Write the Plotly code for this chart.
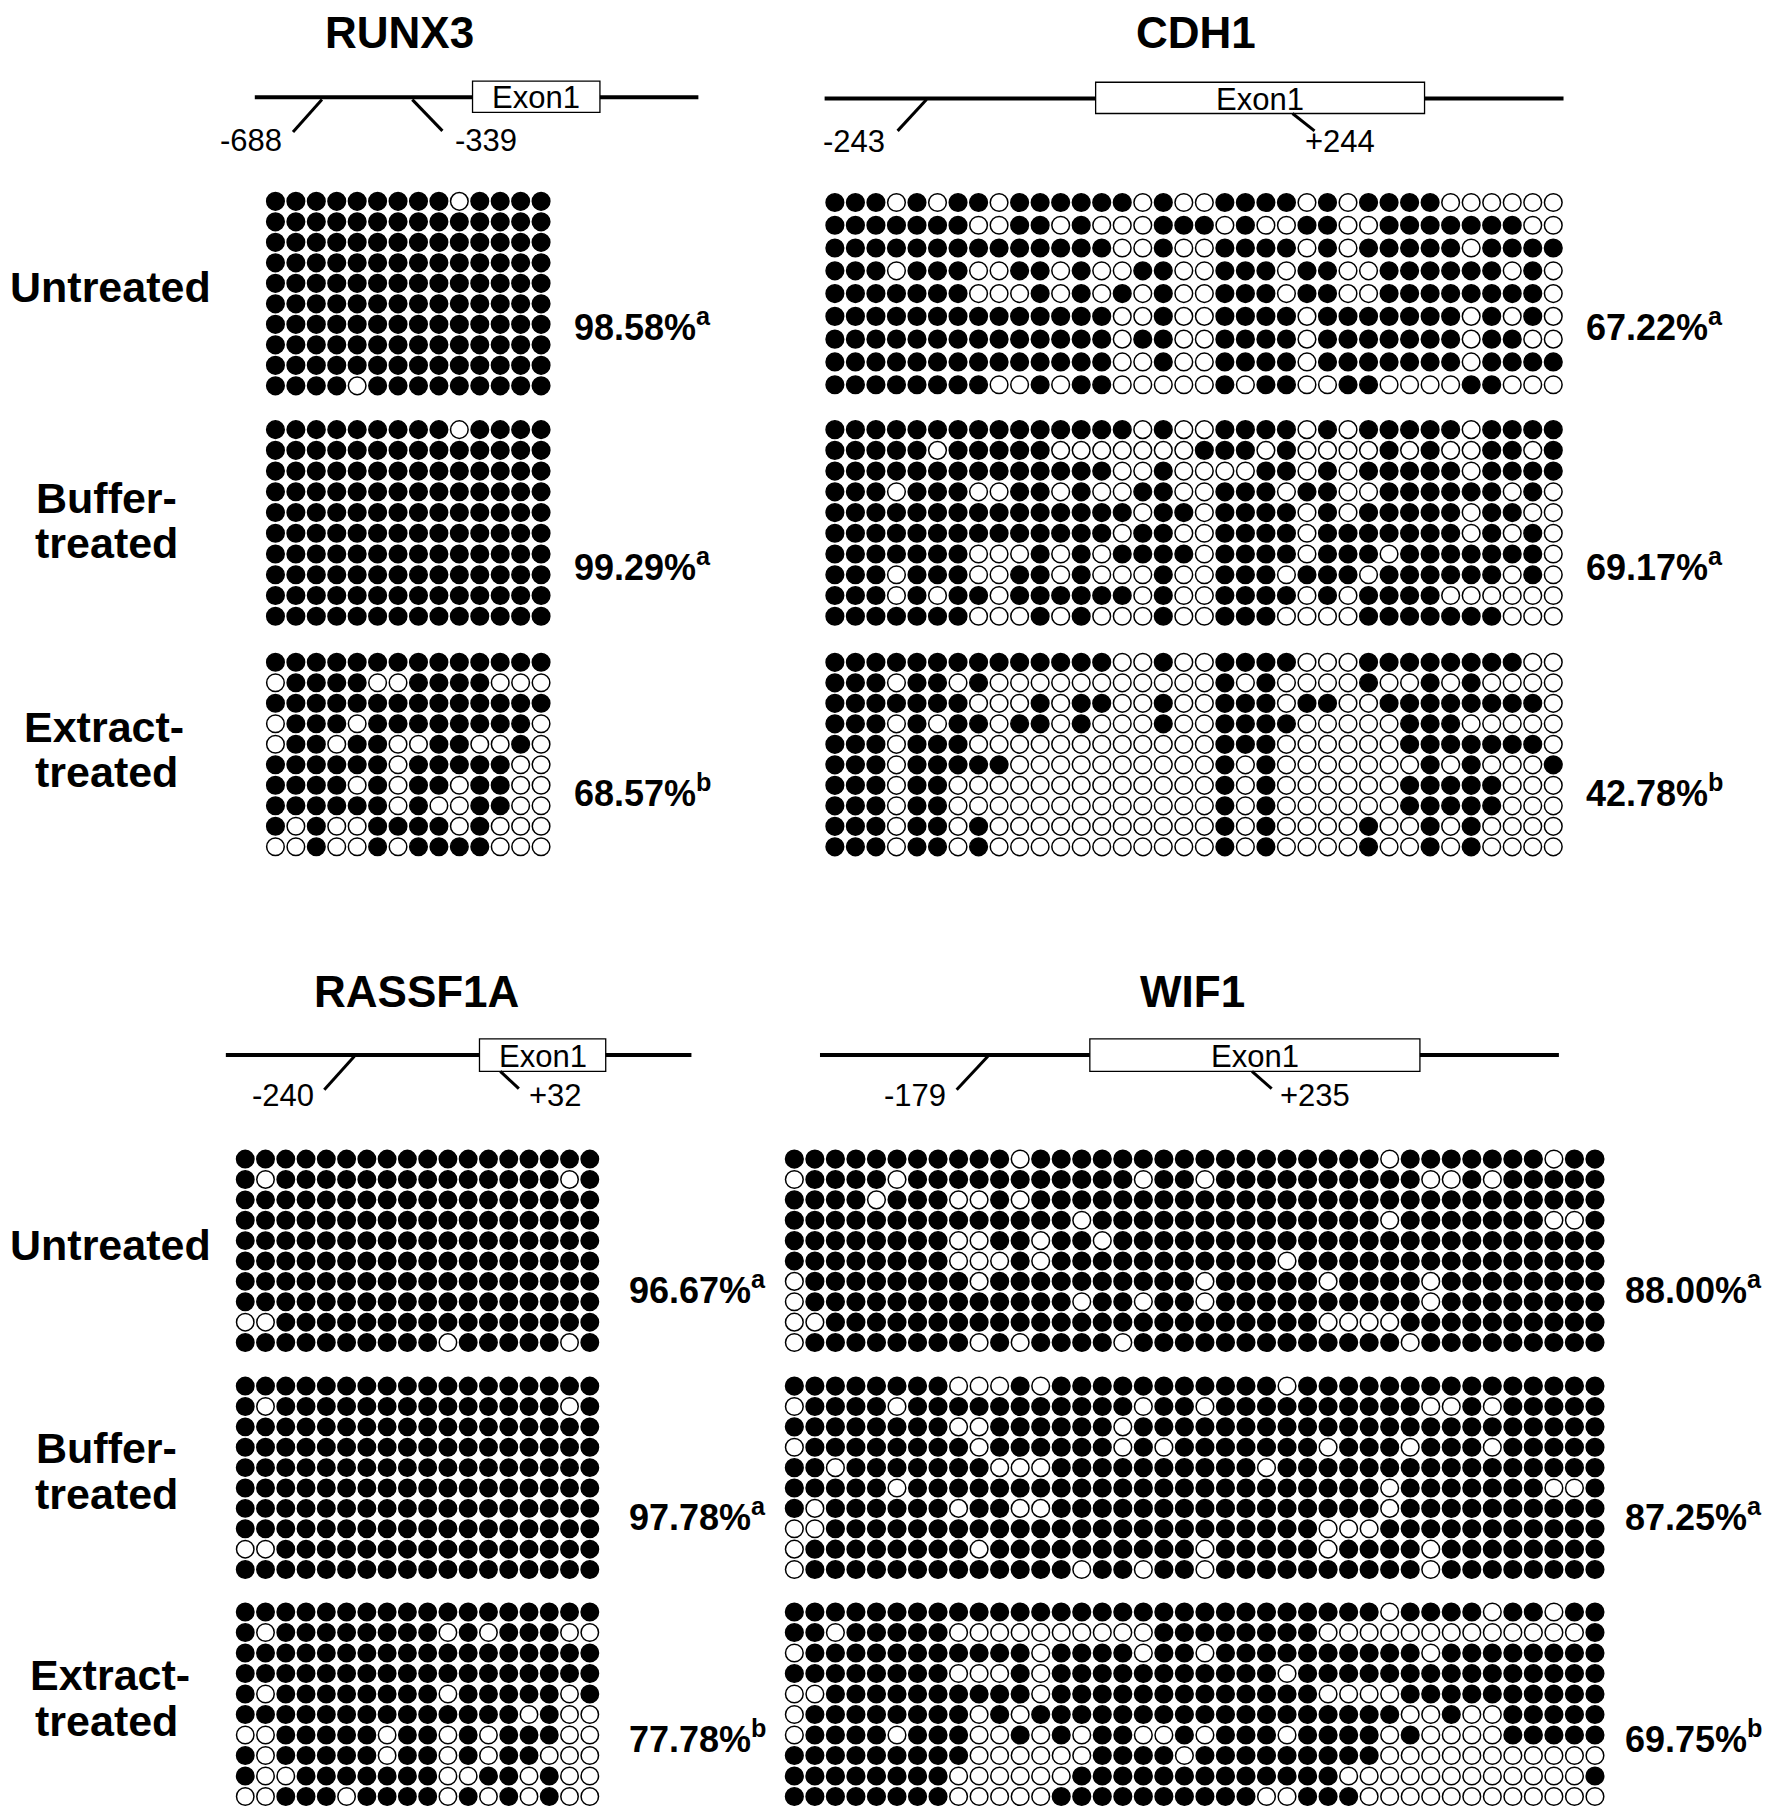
import plotly.graph_objects as go

# ---------------- DATA (1 = methylated CpG, 0 = unmethylated) ----------------
genes = ["RUNX3", "CDH1", "RASSF1A", "WIF1"]
groups = ["Untreated", "Buffer-treated", "Extract-treated"]

RUNX3_untreated = [
    "11111111101111", "11111111111111", "11111111111111", "11111111111111",
    "11111111111111", "11111111111111", "11111111111111", "11111111111111",
    "11111111111111", "11110111111111",
]
RUNX3_buffer = [
    "11111111101111", "11111111111111", "11111111111111", "11111111111111",
    "11111111111111", "11111111111111", "11111111111111", "11111111111111",
    "11111111111111", "11111111111111",
]
RUNX3_extract = [
    "11111111111111", "01111001111000", "11111111111111", "01110111111110",
    "01101100110010", "11111101111100", "11110101101100", "11111101001100",
    "10100111101000", "00100101111000",
]

CDH1_untreated = [
    "111010110111111010011110101111000000",
    "111111100110100011101001100111111100",
    "111111111111110010011110101111101111",
    "111011100110100110011101100111111010",
    "111111100010101010011101100111111110",
    "111111111111110010011110111111101010",
    "111111111111110110011110111111101100",
    "111111111111110010011110111111101111",
    "111111110010110000010110011000011000",
]
CDH1_buffer = [
    "111111111111111010011110101111101111",
    "111110111110000000111010000101001101",
    "111111111111110010000110101111101111",
    "111011100110100110011101100111111010",
    "111111111111111011011110101111101100",
    "111111111111110110011110111111101010",
    "111111100010101111011110111011111110",
    "111011100110100010011101110111111010",
    "111010110111111010011110101111000000",
    "111111100010100010011100001111111000",
]
CDH1_extract = [
    "111111111111110010011110001111111100",
    "111011010000000000010100001001010000",
    "111111100010110010011101100111111110",
    "111010110110100010011110000011100000",
    "111011100000000000011100000011111110",
    "111011111000000000010100000001010001",
    "111011000000000000010100000011111000",
    "111011000000000000010100000011111000",
    "111011010000000000010100001001010000",
    "111011010000000000010100001001010000",
]

RASSF1A_untreated = [
    "111111111111111111", "101111111111111101", "111111111111111111",
    "111111111111111111", "111111111111111111", "111111111111111111",
    "111111111111111111", "111111111111111111", "001111111111111111",
    "111111111101111101",
]
RASSF1A_buffer = [
    "111111111111111111", "101111111111111101", "111111111111111111",
    "111111111111111111", "111111111111111111", "111111111111111111",
    "111111111111111111", "111111111111111111", "001111111111111111",
    "111111111111111111",
]
RASSF1A_extract = [
    "111111111111111111", "101111111101011100", "111111111111111111",
    "111111111111111111", "101111111101111101", "111111111111110100",
    "001111101101011100", "101111101101011000", "100111111100110100",
    "001110111101010100",
]

WIF1_untreated = [
    "1111111111" "1011111111" "1111111110" "1111111011",
    "0111101111" "1111111011" "0111111111" "1001011111",
    "1111011100" "1011111111" "1111111111" "1111111111",
    "1111111111" "1111011111" "1111111110" "1111111001",
    "1111111100" "1101101111" "1111111111" "1111111111",
    "1111111100" "0101111111" "1111011111" "1111111111",
    "0111111110" "1111111111" "0111110111" "1011111111",
    "0111111111" "1111011011" "0111111111" "1011111111",
    "0011111111" "1111111111" "1111110000" "1111111111",
    "0111111110" "1011110111" "1111111111" "0111111111",
]
WIF1_buffer = [
    "1111111100" "0101111111" "1111011111" "1111111111",
    "0111101111" "1111111011" "0111111111" "1001011111",
    "1111111100" "1111110111" "1111111111" "1111111111",
    "0111111110" "1111110101" "1111110111" "0111011111",
    "1101111111" "0001111111" "1110111111" "1111111111",
    "1111101111" "1111111111" "1111111110" "1111111001",
    "1011111101" "1001111111" "1111111110" "1111111111",
    "0011111111" "1111111111" "1111110001" "1111111111",
    "0111111110" "1111111111" "0111110111" "1011111111",
    "0111111111" "1111011011" "0111111111" "1011111111",
]
WIF1_extract = [
    "1111111111" "1111111111" "1111111110" "1111011011",
    "1101111100" "0000000011" "1111110000" "0000000001",
    "0111111111" "1101111011" "0111111111" "1011111111",
    "1111111100" "0101111111" "1111011111" "1111111111",
    "0011111111" "1101111111" "1111110000" "1111111111",
    "0111111110" "1011111111" "1111111111" "0010011111",
    "0111101110" "0101011001" "0111011110" "1000011111",
    "1111111110" "0000011110" "1111111110" "0000000000",
    "1111111100" "0000111111" "1111111000" "0000000001",
    "1111111100" "0001111111" "1110011100" "0000000000",
]

percent_labels = {
    "RUNX3": ["98.58%", "99.29%", "68.57%"],
    "CDH1": ["67.22%", "69.17%", "42.78%"],
    "RASSF1A": ["96.67%", "97.78%", "77.78%"],
    "WIF1": ["88.00%", "87.25%", "69.75%"],
}
significance = ["a", "a", "b"]

gene_markers = {
    "RUNX3": ["-688", "-339"],
    "CDH1": ["-243", "+244"],
    "RASSF1A": ["-240", "+32"],
    "WIF1": ["-179", "+235"],
}

patterns = {
    "RUNX3": [RUNX3_untreated, RUNX3_buffer, RUNX3_extract],
    "CDH1": [CDH1_untreated, CDH1_buffer, CDH1_extract],
    "RASSF1A": [RASSF1A_untreated, RASSF1A_buffer, RASSF1A_extract],
    "WIF1": [WIF1_untreated, WIF1_buffer, WIF1_extract],
}

# ---------------- LAYOUT GEOMETRY (reference frame 1530 x 1568) ----------------
PAGE_W, PAGE_H = 1772, 1816
OFF = 8                      # default page margin around the plot div
W, H = PAGE_W - OFF, PAGE_H - OFF
FW, FH = 1530.0, 1568.0
SX = PAGE_W / FW
SY = PAGE_H / FH


def PX(x):
    return (x * SX - OFF) / W


def PY(y):
    return 1 - (y * SY - OFF) / H


TOP_BLOCKS = [(165, 342), (362, 541), (563, 740)]
BOT_BLOCKS = [(992, 1168), (1188, 1364), (1383, 1560)]

geom = {
    "RUNX3": dict(x0=229, x1=476, blocks=TOP_BLOCKS, pct_x=494, pct_y=[281, 488, 683],
                  title=(345, 28), line=(220, 603, 84), box=(408, 518, 70, 97),
                  ticks=[((278, 86), (253, 114), (217, 121)), ((356, 86), (382, 113), (420, 121))]),
    "CDH1": dict(x0=712, x1=1350, blocks=TOP_BLOCKS, pct_x=1368, pct_y=[281, 488, 683],
                 title=(1033, 28), line=(712, 1350, 85), box=(946, 1230, 71, 98),
                 ticks=[((800, 86), (775, 113), (737, 122)), ((1116, 98), (1135, 113), (1157, 122))]),
    "RASSF1A": dict(x0=203, x1=518, blocks=BOT_BLOCKS, pct_x=541, pct_y=[1112, 1308, 1500],
                    title=(360, 856), line=(195, 597, 911), box=(414, 523, 897, 925),
                    ticks=[((306, 912), (280, 941), (244, 946)), ((432, 925), (448, 940), (480, 946))]),
    "WIF1": dict(x0=677, x1=1386, blocks=BOT_BLOCKS, pct_x=1401, pct_y=[1112, 1308, 1500],
                 title=(1030, 856), line=(708, 1346, 911), box=(941, 1226, 897, 925),
                 ticks=[((853, 912), (826, 941), (790, 946)), ((1081, 925), (1098, 940), (1135, 946))]),
}

row_labels = [
    ("Untreated", 95, 248), ("Buffer-", 92, 430), ("treated", 92, 469),
    ("Extract-", 90, 628), ("treated", 92, 667),
    ("Untreated", 95, 1075), ("Buffer-", 92, 1250), ("treated", 92, 1290),
    ("Extract-", 95, 1446), ("treated", 92, 1486),
]

FONT = "Liberation Sans, Arial, Helvetica, sans-serif"

fig = go.Figure()
layout_axes = {}
shapes = []
annotations = []

k = 0
for gene in genes:
    g = geom[gene]
    for gi, rows in enumerate(patterns[gene]):
        k += 1
        ncol = len(rows[0])
        nrow = len(rows)
        xs, ys, cols = [], [], []
        for r, row in enumerate(rows):
            for c, v in enumerate(row):
                xs.append(c + 1)
                ys.append(r + 1)
                cols.append("black" if v == "1" else "white")
        spacing = (g["x1"] - g["x0"]) / ncol * SX
        size = spacing * 0.86
        suffix = "" if k == 1 else str(k)
        fig.add_trace(go.Scatter(
            x=xs, y=ys, mode="markers", xaxis="x" + suffix, yaxis="y" + suffix,
            marker=dict(symbol="circle", size=size, color=cols,
                        line=dict(color="black", width=1.5)),
            cliponaxis=False, hoverinfo="skip", showlegend=False,
        ))
        y0, y1 = g["blocks"][gi]
        layout_axes["xaxis" + suffix] = dict(domain=[PX(g["x0"]), PX(g["x1"])],
                                             range=[0.5, ncol + 0.5], visible=False,
                                             anchor="y" + suffix, fixedrange=True)
        layout_axes["yaxis" + suffix] = dict(domain=[PY(y1), PY(y0)],
                                             range=[nrow + 0.5, 0.5], visible=False,
                                             anchor="x" + suffix, fixedrange=True)
        annotations.append(dict(
            x=PX(g["pct_x"]), y=PY(g["pct_y"][gi]), xref="paper", yref="paper",
            text="<b>%s<sup>%s</sup></b>" % (percent_labels[gene][gi], significance[gi]),
            showarrow=False, xanchor="left", yanchor="middle",
            font=dict(family=FONT, size=36, color="black"),
        ))

    # title
    tx, ty = g["title"]
    annotations.append(dict(x=PX(tx), y=PY(ty), xref="paper", yref="paper",
                            text="<b>%s</b>" % gene, showarrow=False,
                            xanchor="center", yanchor="middle", borderpad=0,
                            font=dict(family=FONT, size=44, color="black")))
    # gene diagram
    lx0, lx1, ly = g["line"]
    shapes.append(dict(type="line", xref="paper", yref="paper",
                       x0=PX(lx0), x1=PX(lx1), y0=PY(ly), y1=PY(ly),
                       line=dict(color="black", width=4)))
    bx0, bx1, by0, by1 = g["box"]
    shapes.append(dict(type="rect", xref="paper", yref="paper",
                       x0=PX(bx0), x1=PX(bx1), y0=PY(by1), y1=PY(by0),
                       fillcolor="white", line=dict(color="black", width=1.3)))
    annotations.append(dict(x=PX((bx0 + bx1) / 2), y=PY((by0 + by1) / 2 + 1),
                            xref="paper", yref="paper", text="Exon1", showarrow=False,
                            xanchor="center", yanchor="middle",
                            font=dict(family=FONT, size=31, color="black")))
    for (p0, p1, lab), txt in zip(g["ticks"], gene_markers[gene]):
        shapes.append(dict(type="line", xref="paper", yref="paper",
                           x0=PX(p0[0]), y0=PY(p0[1]), x1=PX(p1[0]), y1=PY(p1[1]),
                           line=dict(color="black", width=3)))
        annotations.append(dict(x=PX(lab[0]), y=PY(lab[1]), xref="paper", yref="paper",
                                text=txt, showarrow=False, xanchor="center",
                                yanchor="middle",
                                font=dict(family=FONT, size=31, color="black")))

for txt, x, y in row_labels:
    annotations.append(dict(x=PX(x), y=PY(y), xref="paper", yref="paper",
                            text="<b>%s</b>" % txt, showarrow=False,
                            xanchor="center", yanchor="middle",
                            font=dict(family=FONT, size=43, color="black")))

fig.update_layout(
    width=W, height=H, autosize=False,
    margin=dict(l=0, r=0, t=0, b=0),
    paper_bgcolor="white", plot_bgcolor="white",
    shapes=shapes, annotations=annotations, showlegend=False,
    **layout_axes,
)

fig.write_html("out.html", config={"displayModeBar": False})
